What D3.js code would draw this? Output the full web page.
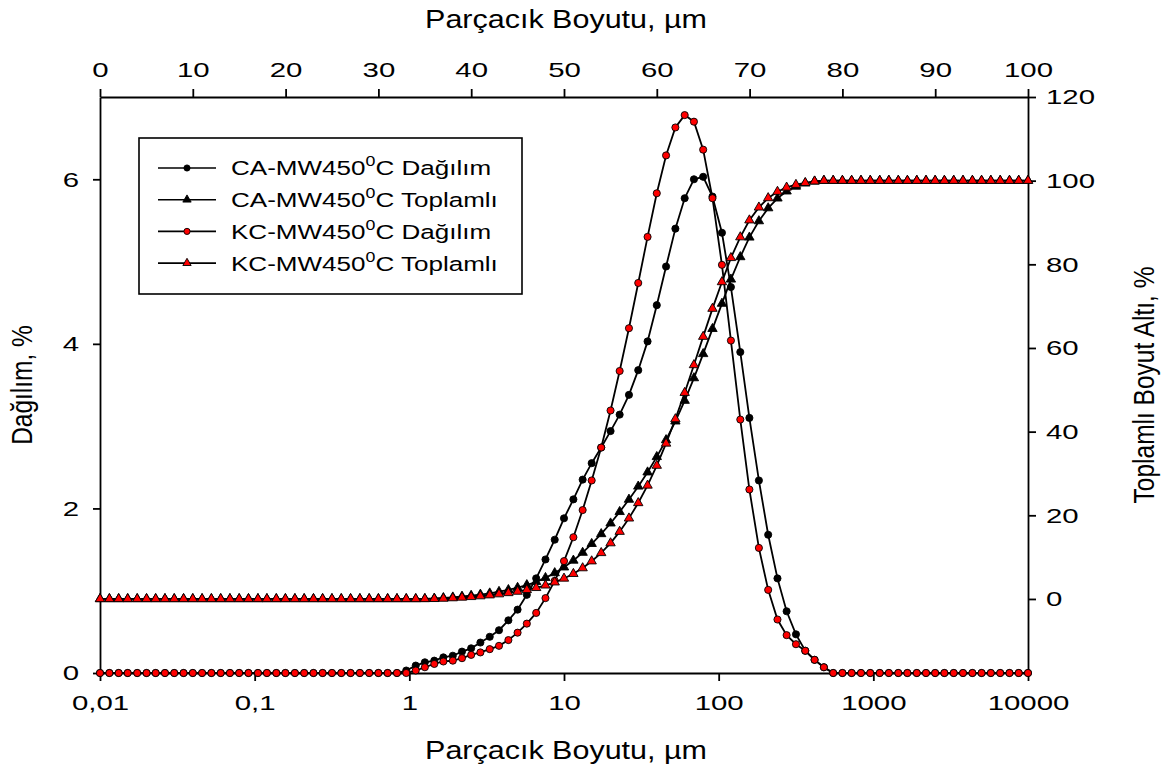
<!DOCTYPE html>
<html>
<head>
<meta charset="utf-8">
<script src="https://cdn.jsdelivr.net/npm/d3@7"></script>
<style>
  body { margin: 0; background: #fff; }
  text { font-family: "Liberation Sans", Arial, sans-serif; fill: #000; }
</style>
</head>
<body>
<svg id="chart" width="1168" height="776"></svg>
<script>
// size classes, um
const sizes = [
  0.01, 0.0115, 0.0132, 0.0151, 0.0174, 0.02, 0.0229, 0.0263, 0.0302, 0.0347,
  0.0398, 0.0457, 0.0525, 0.0603, 0.0692, 0.0794, 0.0912, 0.105, 0.12, 0.138,
  0.158, 0.182, 0.209, 0.24, 0.275, 0.316, 0.363, 0.417, 0.479, 0.55,
  0.631, 0.724, 0.832, 0.955, 1.1, 1.26, 1.45, 1.66, 1.91, 2.19,
  2.51, 2.88, 3.31, 3.8, 4.37, 5.01, 5.75, 6.61, 7.59, 8.71,
  10, 11.5, 13.2, 15.1, 17.4, 20, 22.9, 26.3, 30.2, 34.7,
  39.8, 45.7, 52.5, 60.3, 69.2, 79.4, 91.2, 105, 120, 138,
  158, 182, 209, 240, 275, 316, 363, 417, 479, 550,
  631, 724, 832, 955, 1100, 1260, 1450, 1660, 1910, 2190,
  2510, 2880, 3310, 3800, 4370, 5010, 5750, 6610, 7590, 8710, 10000
];

// CA-MW450 distribution, %
const caDist = [
  0, 0, 0, 0, 0, 0, 0, 0, 0, 0,
  0, 0, 0, 0, 0, 0, 0, 0, 0, 0,
  0, 0, 0, 0, 0, 0, 0, 0, 0, 0,
  0, 0, 0, 0.03, 0.09, 0.13, 0.15, 0.19, 0.21, 0.26,
  0.30, 0.37, 0.44, 0.52, 0.64, 0.77, 0.95, 1.15, 1.38, 1.62,
  1.88, 2.11, 2.35, 2.55, 2.74, 2.94, 3.14, 3.38, 3.68, 4.03,
  4.47, 4.94, 5.40, 5.77, 6.00, 6.03, 5.79, 5.35, 4.69, 3.90,
  3.10, 2.34, 1.68, 1.15, 0.75, 0.47, 0.27, 0.16, 0.07, 0,
  0, 0, 0, 0, 0, 0, 0, 0, 0, 0,
  0, 0, 0, 0, 0, 0, 0, 0, 0, 0, 0
];

// CA-MW450 cumulative undersize, %
const caCum = [
  0, 0, 0, 0, 0, 0, 0, 0, 0, 0,
  0, 0, 0, 0, 0, 0, 0, 0, 0, 0,
  0, 0, 0, 0, 0, 0, 0, 0, 0, 0,
  0, 0, 0, 0, 0, 0.03, 0.12, 0.25, 0.40, 0.59,
  0.80, 1.06, 1.36, 1.73, 2.17, 2.69, 3.33, 4.10, 5.05, 6.20,
  7.58, 9.20, 11.08, 13.19, 15.54, 18.09, 20.83, 23.77, 26.91, 30.29,
  33.97, 38.00, 42.47, 47.41, 52.81, 58.58, 64.58, 70.61, 76.40, 81.75,
  86.44, 90.34, 93.44, 95.78, 97.46, 98.61, 99.36, 99.83, 100, 100,
  100, 100, 100, 100, 100, 100, 100, 100, 100, 100,
  100, 100, 100, 100, 100, 100, 100, 100, 100, 100, 100
];

// KC-MW450 distribution, %
const kcDist = [
  0, 0, 0, 0, 0, 0, 0, 0, 0, 0,
  0, 0, 0, 0, 0, 0, 0, 0, 0, 0,
  0, 0, 0, 0, 0, 0, 0, 0, 0, 0,
  0, 0, 0, 0, 0.03, 0.07, 0.11, 0.14, 0.15, 0.18,
  0.22, 0.25, 0.29, 0.33, 0.40, 0.49, 0.60, 0.73, 0.91, 1.12,
  1.36, 1.65, 1.98, 2.34, 2.74, 3.19, 3.67, 4.19, 4.74, 5.30,
  5.83, 6.29, 6.63, 6.78, 6.70, 6.36, 5.77, 4.96, 4.04, 3.08,
  2.23, 1.52, 1.01, 0.65, 0.46, 0.35, 0.27, 0.16, 0.07, 0,
  0, 0, 0, 0, 0, 0, 0, 0, 0, 0,
  0, 0, 0, 0, 0, 0, 0, 0, 0, 0, 0
];

// KC-MW450 cumulative undersize, %
const kcCum = [
  0, 0, 0, 0, 0, 0, 0, 0, 0, 0,
  0, 0, 0, 0, 0, 0, 0, 0, 0, 0,
  0, 0, 0, 0, 0, 0, 0, 0, 0, 0,
  0, 0, 0, 0, 0, 0, 0.03, 0.10, 0.21, 0.35,
  0.50, 0.68, 0.90, 1.15, 1.44, 1.77, 2.17, 2.66, 3.26, 3.99,
  4.90, 6.02, 7.38, 9.03, 11.01, 13.35, 16.09, 19.28, 22.95, 27.14,
  31.88, 37.18, 43.01, 49.30, 55.93, 62.71, 69.41, 75.77, 81.54, 86.50,
  90.54, 93.62, 95.85, 97.37, 98.38, 99.03, 99.49, 99.84, 100, 100,
  100, 100, 100, 100, 100, 100, 100, 100, 100, 100,
  100, 100, 100, 100, 100, 100, 100, 100, 100, 100, 100
];

const bottomTicks = [0.01, 0.1, 1, 10, 100, 1000, 10000];
const bottomTickLabels = ['0,01', '0,1', '1', '10', '100', '1000', '10000'];
const topTicks = [0, 10, 20, 30, 40, 50, 60, 70, 80, 90, 100];
const leftTicks = [0, 2, 4, 6];
const rightTicks = [0, 20, 40, 60, 80, 100, 120];

const xTitle = 'Parçacık Boyutu, µm';
const leftTitle = 'Dağılım, %';
const rightTitle = 'Toplamlı Boyut Altı, %';

const svg = d3.select('#chart');
const plotL = 100, plotR = 1028, plotT = 97, plotB = 673;

const x = d3.scaleLog().domain([0.01, 10000]).range([plotL, plotR]);
const xTop = d3.scaleLinear().domain([0, 100]).range([plotL, plotR]);
const yL = d3.scaleLinear().domain([0, 7]).range([plotB, plotT]);
const yR = d3.scaleLinear().domain([-17.7, 120]).range([plotB, plotT]);

// text in the original is drawn wider than normal
function widen(sel, sx) {
  sel.each(function() {
    const t = d3.select(this);
    const xv = +t.attr('x') || 0;
    t.attr('x', xv / sx).attr('transform', `scale(${sx},1)`);
  });
}

function styleAxis(g, fs, sx) {
  g.select('.domain').attr('stroke', '#000').attr('stroke-width', 1.8);
  g.selectAll('.tick line').attr('stroke', '#000').attr('stroke-width', 1.8);
  g.selectAll('.tick text').attr('font-size', fs).attr('font-family', null);
  widen(g.selectAll('.tick text'), sx);
}

const tickFs = 21, tickSx = 1.4;
const intFmt = d3.format('d');

const gBottom = svg.append('g').attr('transform', `translate(0,${plotB})`)
  .call(d3.axisBottom(x).tickValues(bottomTicks)
    .tickFormat((d, i) => bottomTickLabels[i]).tickSize(8).tickSizeOuter(0).tickPadding(14));
styleAxis(gBottom, tickFs, tickSx);

const gTop = svg.append('g').attr('transform', `translate(0,${plotT})`)
  .call(d3.axisTop(xTop).tickValues(topTicks).tickFormat(intFmt)
    .tickSize(8).tickSizeOuter(0).tickPadding(12));
styleAxis(gTop, tickFs, tickSx);

const gLeft = svg.append('g').attr('transform', `translate(${plotL},0)`)
  .call(d3.axisLeft(yL).tickValues(leftTicks).tickFormat(intFmt)
    .tickSize(7).tickSizeOuter(0).tickPadding(14));
styleAxis(gLeft, tickFs, tickSx);

const gRight = svg.append('g').attr('transform', `translate(${plotR},0)`)
  .call(d3.axisRight(yR).tickValues(rightTicks).tickFormat(intFmt)
    .tickSize(8).tickSizeOuter(0).tickPadding(10));
styleAxis(gRight, tickFs, tickSx);

// axis titles
const titleFs = 25, titleSx = 1.22;
svg.append('text').attr('font-size', titleFs).attr('text-anchor', 'middle')
  .attr('transform', `translate(566,28) scale(${titleSx},1)`).text(xTitle);
svg.append('text').attr('font-size', titleFs).attr('text-anchor', 'middle')
  .attr('transform', `translate(566,759) scale(${titleSx},1)`).text(xTitle);
svg.append('text').attr('font-size', 24.5).attr('text-anchor', 'middle')
  .attr('transform', `translate(32,385) scale(${titleSx},1) rotate(-90)`).text(leftTitle);
svg.append('text').attr('font-size', 24.5).attr('text-anchor', 'middle')
  .attr('transform', `translate(1154,385) scale(${titleSx},1) rotate(-90)`).text(rightTitle);

// series
const series = [
  { label: 'CA-MW450', kind: 'Dağılım', values: caDist, y: yL, shape: d3.symbolCircle, fill: '#000' },
  { label: 'CA-MW450', kind: 'Toplamlı', values: caCum, y: yR, shape: d3.symbolTriangle, fill: '#000' },
  { label: 'KC-MW450', kind: 'Dağılım', values: kcDist, y: yL, shape: d3.symbolCircle, fill: '#ff0000' },
  { label: 'KC-MW450', kind: 'Toplamlı', values: kcCum, y: yR, shape: d3.symbolTriangle, fill: '#ff0000' }
];

const symSize = s => s === d3.symbolCircle ? 40 : 38;

series.forEach(s => {
  const pts = sizes.map((sz, i) => [sz, s.values[i]]);
  const line = d3.line().x(d => x(d[0])).y(d => s.y(d[1]));
  svg.append('path').datum(pts).attr('d', line)
    .attr('fill', 'none').attr('stroke', '#000').attr('stroke-width', 1.8);
  svg.append('g').selectAll('path').data(pts).join('path')
    .attr('transform', d => `translate(${x(d[0])},${s.y(d[1])})`)
    .attr('d', d3.symbol().type(s.shape).size(symSize(s.shape)))
    .attr('fill', s.fill).attr('stroke', '#000').attr('stroke-width', 0.9);
});

// legend
const lg = svg.append('g');
lg.append('rect').attr('x', 139).attr('y', 138).attr('width', 383).attr('height', 156)
  .attr('fill', '#fff').attr('stroke', '#000').attr('stroke-width', 1.6);
const legFs = 20.5, legSx = 1.27;
series.forEach((s, i) => {
  const ry = 168 + i * 31.7;
  lg.append('line').attr('x1', 158).attr('x2', 216).attr('y1', ry).attr('y2', ry)
    .attr('stroke', '#000').attr('stroke-width', 1.6);
  lg.append('path').attr('transform', `translate(187,${ry})`)
    .attr('d', d3.symbol().type(s.shape).size(30))
    .attr('fill', s.fill).attr('stroke', '#000').attr('stroke-width', 0.9);
  const t = lg.append('text').attr('font-size', legFs)
    .attr('x', 231 / legSx).attr('y', ry + 7.5)
    .attr('transform', `scale(${legSx},1)`);
  t.append('tspan').text(s.label);
  t.append('tspan').attr('font-size', 14).attr('dy', -9).text('0');
  t.append('tspan').attr('dy', 9).text('C ' + s.kind);
});
</script>
</body>
</html>
